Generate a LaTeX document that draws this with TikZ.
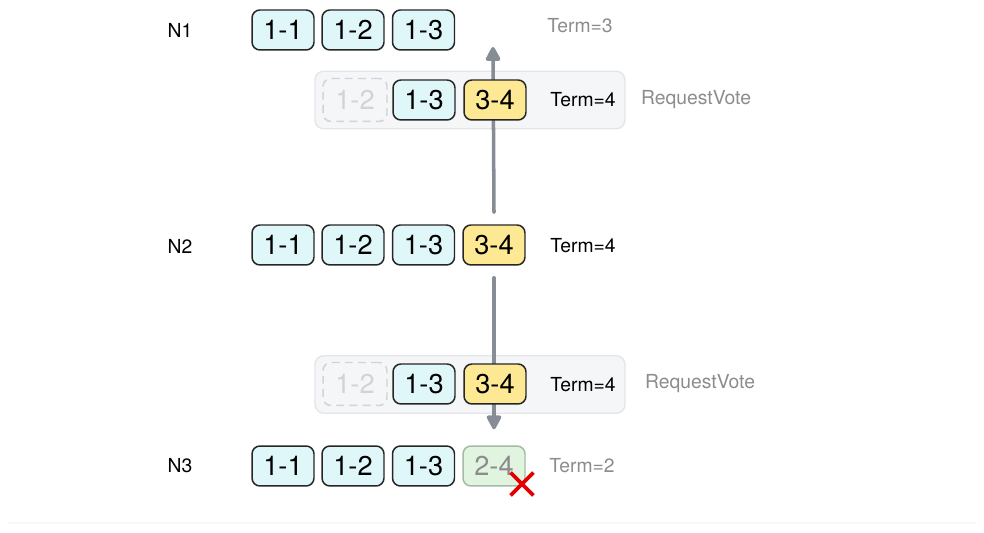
\documentclass[tikz,border=0pt]{standalone}
\usepackage{fontspec}
\setmainfont{TeX Gyre Heros}
\usetikzlibrary{positioning, arrows.meta, shapes.misc}
\definecolor{logblue}{HTML}{E0F7FA}
\definecolor{logyellow}{HTML}{FDE993}
\definecolor{loggreen}{HTML}{E0F4E0}
\definecolor{greenedge}{HTML}{A3BCA3}
\definecolor{panelfill}{HTML}{F5F6F8}
\definecolor{paneledge}{HTML}{E3E5E8}
\definecolor{ghost}{HTML}{D0D3D7}
\definecolor{arrowgray}{HTML}{878D95}
\definecolor{labelgray}{HTML}{8C8C8C}
\definecolor{rulegray}{HTML}{F6F8F8}

\begin{document}
\begin{tikzpicture} [x=0.02cm, y=-0.02cm,
  entry/.style={draw=black!85, line width=0.85pt, rounded corners=4.5pt, fill=logblue, minimum width=1.24cm, minimum height=0.8cm, inner sep=0pt, font=\fontsize{15.5}{15.5}\selectfont},
  fresh/.style={entry, fill=logyellow},
  stale/.style={entry, draw=greenedge, fill=loggreen, text=labelgray},
  dropped/.style={entry, draw=ghost, dash pattern=on 4.5pt off 3pt, fill=none, text=ghost, minimum width=1.28cm, minimum height=0.86cm},
  panel/.style={draw=paneledge, line width=0.8pt, fill=panelfill, rounded corners=5pt, minimum width=6.2cm, minimum height=1.15cm},
  tag/.style={font=\fontsize{11}{13}\selectfont},
  faded/.style={tag, text=labelgray},
  msg/.style={draw=arrowgray, line width=2pt, line cap=round, -{Triangle[length=0.32cm, width=0.32cm, round]}},
  reject/.style={cross out, draw=red!90!black, line width=2.2pt, minimum size=0.38cm, inner sep=0pt}]
\useasboundingbox (0,0) rectangle (984,533);
\draw[line width=1.2pt, color=rulegray] (8,523) -- (976,523);

% RequestVote messages
\node[panel] (vote1) at (470,100) {};
\node[panel] (vote2) at (470,384.5) {};

% N1
\node[tag] (n1) at (180,30) {N1};
\node[entry] (n1a) at (283,30) {1-1};
\node[entry] (n1b) at (353,30) {1-2};
\node[entry] (n1c) at (423.5,30) {1-3};
\node[faded] (t1) at (580,26) {Term=3};
\coordinate (n1end) at (493,47);

% N2
\node[tag] (n2) at (180,246) {N2};
\node[tag] (t2) at (583,246) {Term=4};

% N3
\node[tag] (n3) at (180,466) {N3};
\node[faded] (t3) at (582,466) {Term=2};

% votes travel from N2 (drawn below the entries)
\node[entry, draw=none, fill=none] (n2d) at (494,245) {};
\node[entry, draw=none, fill=none] (n3d) at (494,466) {};
\draw[msg] ([yshift=0.24cm]n2d.north) -- (n1end);
\draw[msg] ([yshift=-0.24cm]n2d.south) -- ([yshift=0.32cm]n3d.north);

\node[entry] (n2a) at (283,245) {1-1};
\node[entry] (n2b) at (353,245) {1-2};
\node[entry] (n2c) at (423.5,245) {1-3};
\node[fresh] at (n2d) {3-4};

\node[entry] (n3a) at (283,466) {1-1};
\node[entry] (n3b) at (353,466) {1-2};
\node[entry] (n3c) at (423.5,466) {1-3};
\node[stale] at (n3d) {2-4};
\node[reject] (rej) at (522,484) {};

\node[dropped] (m1a) at (355,100) {1-2};
\node[entry] (m1b) at (424,100) {1-3};
\node[fresh] (m1c) at (495,100) {3-4};
\node[tag] (m1t) at (583,100) {Term=4};
\node[faded] (m1r) at (696,100) {RequestVote};

\node[dropped] (m2a) at (355,384) {1-2};
\node[entry] (m2b) at (424,384) {1-3};
\node[fresh] (m2c) at (495,384) {3-4};
\node[tag] (m2t) at (583,385) {Term=4};
\node[faded] (m2r) at (700,384) {RequestVote};
\end{tikzpicture}
\end{document}
